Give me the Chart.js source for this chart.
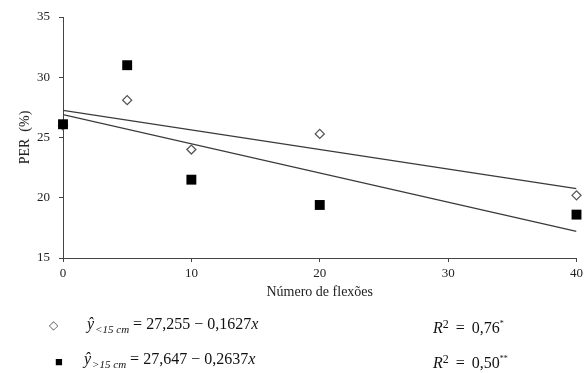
<!DOCTYPE html>
<html>
<head>
<meta charset="utf-8">
<script src="https://cdn.jsdelivr.net/npm/chart.js@4"></script>
<style>
  html, body { margin: 0; padding: 0; background: #fff; }
  #wrap { position: relative; width: 587px; height: 373px; }
  canvas { position: absolute; left: 0; top: 0; }
  .leg { position: absolute; font-family: "Liberation Serif", serif; font-size: 16px; line-height: 20px; color: #111; white-space: nowrap; }
  .leg i { font-style: italic; }
  .leg sub { font-size: 11px; vertical-align: -4px; margin-left: 1px; }
  .leg sup { font-size: 8px; vertical-align: 7px; }
  .leg .op { margin: 0 4px; }
  .mk { position: absolute; line-height: 12px; }
</style>
</head>
<body>
<div id="wrap">
  <canvas id="c" width="587" height="373"></canvas>
  <div class="mk" style="left:49px;top:319px;font-size:12px;color:#555;">&#9671;</div>
  <div class="mk" style="left:55px;top:356px;font-size:13px;color:#000;">&#9632;</div>
  <div class="leg" style="left:87px;top:314px;"><i>ŷ</i><sub><i>&lt;15 cm</i></sub><span class="op">=</span>27,255<span class="op">−</span>0,1627<i>x</i></div>
  <div class="leg" style="left:84px;top:349px;"><i>ŷ</i><sub><i>&gt;15 cm</i></sub><span class="op">=</span>27,647<span class="op">−</span>0,2637<i>x</i></div>
  <div class="leg" style="left:433px;top:314px;"><i>R</i><sup style="font-size:12px;vertical-align:5px;">2</sup><span class="op" style="margin:0 7px;">=</span>0,76<sup>*</sup></div>
  <div class="leg" style="left:433px;top:349px;"><i>R</i><sup style="font-size:12px;vertical-align:5px;">2</sup><span class="op" style="margin:0 7px;">=</span>0,50<sup>**</sup></div>
</div>
<script>
// flexion counts (x) and PER values
const flexoes = [0, 5, 10, 20, 40];
const perBelow15 = [26.0, 28.1, 24.0, 25.3, 20.2];   // hollow diamonds, < 15 cm
const perAbove15 = [26.1, 31.0, 21.5, 19.4, 18.6];   // filled squares, > 15 cm

// fitted lines, end points at x = 0 and x = 40
const fitX = [0, 40];
const fitBelow15 = [27.25, 20.75];
const fitAbove15 = [26.9, 17.2];

const xTitle = 'Número de flexões';
const yTitle = 'PER  (%)';

const ink = '#222';
const axisCol = '#444';

const pts = (xs, ys) => xs.map((x, i) => ({ x, y: ys[i] }));

new Chart(document.getElementById('c'), {
  type: 'scatter',
  data: {
    datasets: [
      {
        label: '>15 cm',
        data: pts(flexoes, perAbove15),
        pointStyle: 'rect',
        pointRadius: 7,
        backgroundColor: '#000',
        borderColor: '#000',
        borderWidth: 0,
        clip: false,
        order: 0,
      },
      {
        label: '<15 cm',
        data: pts(flexoes, perBelow15),
        pointStyle: 'rectRot',
        pointRadius: 4.5,
        backgroundColor: '#fff',
        borderColor: '#555',
        borderWidth: 1.3,
        clip: false,
        order: 1,
      },
      {
        label: 'fit <15',
        data: pts(fitX, fitBelow15),
        showLine: true,
        pointRadius: 0,
        borderColor: '#3a3a3a',
        borderWidth: 1.3,
        order: 2,
      },
      {
        label: 'fit >15',
        data: pts(fitX, fitAbove15),
        showLine: true,
        pointRadius: 0,
        borderColor: '#3a3a3a',
        borderWidth: 1.3,
        order: 2,
      },
    ],
  },
  options: {
    responsive: false,
    animation: false,
    events: [],
    layout: { padding: { top: 17, right: 10, bottom: 68, left: 13 } },
    plugins: { legend: { display: false }, tooltip: { enabled: false } },
    scales: {
      x: {
        type: 'linear',
        min: 0,
        max: 40,
        afterFit: (s) => { s.height = 47; },
        ticks: { stepSize: 10, color: ink, padding: 4, font: { family: 'Liberation Serif', size: 13 } },
        grid: { drawOnChartArea: false, tickLength: 4, color: axisCol },
        border: { color: axisCol, width: 1 },
        title: { display: true, text: xTitle, color: ink, font: { family: 'Liberation Serif', size: 14 } },
      },
      y: {
        min: 15,
        max: 35,
        afterFit: (s) => { s.width = 50; },
        ticks: { stepSize: 5, color: ink, padding: 9, font: { family: 'Liberation Serif', size: 13 } },
        grid: { drawOnChartArea: false, tickLength: 4, color: axisCol },
        border: { color: axisCol, width: 1 },
        title: { display: true, text: yTitle, color: ink, font: { family: 'Liberation Serif', size: 14 } },
      },
    },
  },
});
</script>
</body>
</html>
